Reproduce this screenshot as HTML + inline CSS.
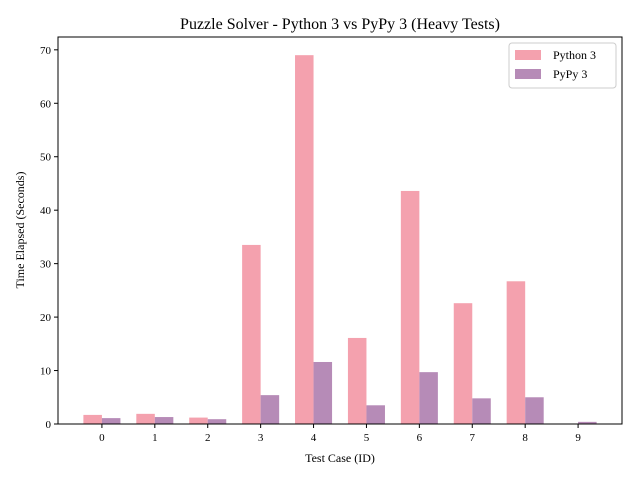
<!DOCTYPE html>
<html><head><meta charset="utf-8"><style>
body{margin:0;background:#fff;}
svg text{font-family:"Liberation Serif","DejaVu Serif",serif;fill:#000;}
</style></head><body>
<svg id="chart" width="640" height="480">
<text x="340" y="29" font-size="16" text-anchor="middle">Puzzle Solver - Python 3 vs PyPy 3 (Heavy Tests)</text>
<text x="340" y="462" font-size="12" text-anchor="middle">Test Case (ID)</text>
<text transform="translate(24,230) rotate(-90)" font-size="12" text-anchor="middle">Time Elapsed (Seconds)</text>
<g id="bars"></g>
<g id="axes"></g>
<g>
<rect x="509" y="43" width="107" height="45" fill="#fff" stroke="#ccc" rx="3"/>
<rect x="515" y="50" width="26" height="10" fill="#f4a1ae"/>
<text x="553" y="59" font-size="12">Python 3</text>
<rect x="515" y="69" width="26" height="10" fill="#b68bb7"/>
<text x="553" y="78" font-size="12">PyPy 3</text>
</g>
</svg>
<script>
const categories=["0","1","2","3","4","5","6","7","8","9"];
const python3=[1.7,1.9,1.2,33.5,69.0,16.1,43.6,22.6,26.7,0];
const pypy3=[1.1,1.3,0.9,5.4,11.6,3.5,9.7,4.8,5.0,0.4];
const yTicks=[0,10,20,30,40,50,60,70];
const NS="http://www.w3.org/2000/svg";
const L=58,R=622,T=37,B=424;
const xMin=-0.83,xMax=9.83,yMax=72.4;
const xs=v=>L+(v-xMin)/(xMax-xMin)*(R-L);
const ys=v=>B-v/yMax*(B-T);
const bw=0.35;
const bars=document.getElementById('bars');
function mk(tag,attrs,parent){const e=document.createElementNS(NS,tag);for(const k in attrs)e.setAttribute(k,attrs[k]);parent.appendChild(e);return e;}
categories.forEach((c,i)=>{
  const r1=mk('rect',{x:xs(i-bw),y:ys(python3[i]),width:xs(i)-xs(i-bw),height:B-ys(python3[i]),fill:'#f4a1ae'},bars);
  
  
  const r2=mk('rect',{x:xs(i),y:ys(pypy3[i]),width:xs(i+bw)-xs(i),height:B-ys(pypy3[i]),fill:'#b68bb7'},bars);
  
  
});
const ax=document.getElementById('axes');
const fr=mk('rect',{x:L,y:T,width:R-L,height:B-T,fill:'none',stroke:'#000','stroke-width':1},ax);


categories.forEach((c,i)=>{
  mk('line',{x1:xs(i),x2:xs(i),y1:B,y2:B+4,stroke:'#000'},ax);
  const t=mk('text',{x:xs(i),y:B+17,'font-size':11,'text-anchor':'middle'},ax);
  t.textContent=c;
  
  
});
yTicks.forEach(v=>{
  mk('line',{x1:L-4,x2:L,y1:ys(v),y2:ys(v),stroke:'#000'},ax);
  const t=mk('text',{x:L-7,y:ys(v)+4,'font-size':11,'text-anchor':'end'},ax);
  t.textContent=v;
  
  
});
</script>
</body></html>
